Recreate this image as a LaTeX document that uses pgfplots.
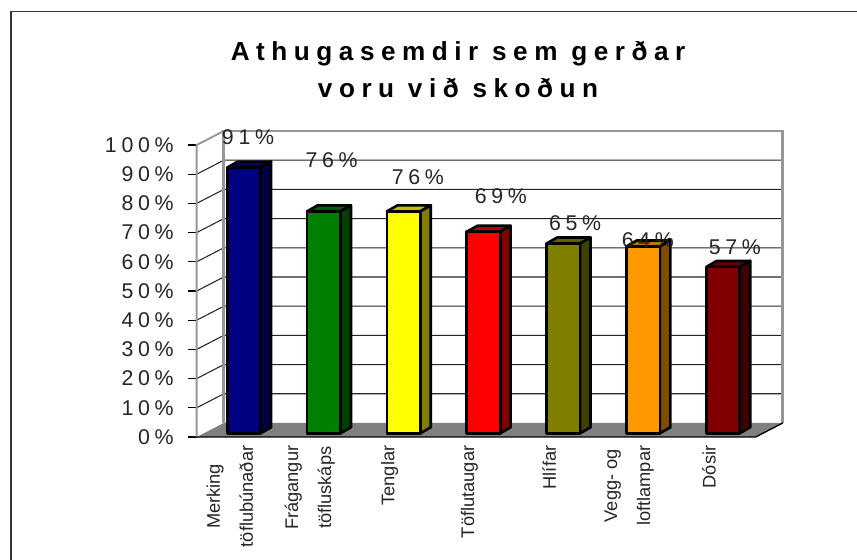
\documentclass[border=0pt]{standalone}
\usepackage{pgfplots}
\pgfplotsset{compat=1.18}
\usepackage{fontspec}
\setmainfont{Liberation Sans}
\newfontfamily\spacedfont[LetterSpace=22]{Liberation Sans}
\newfontfamily\titlefont[LetterSpace=25,BoldFont={Liberation Sans Bold}]{Liberation Sans}

\definecolor{wallgray}{HTML}{808080}
\definecolor{edgegray}{HTML}{969696}
\definecolor{cnavy}{HTML}{000080}
\definecolor{cnavyside}{HTML}{000040}
\definecolor{cnavytop}{HTML}{000060}
\definecolor{cgreen}{HTML}{008000}
\definecolor{cgreenside}{HTML}{004000}
\definecolor{cgreentop}{HTML}{006000}
\definecolor{cyellow}{HTML}{FFFF00}
\definecolor{cyellowside}{HTML}{808000}
\definecolor{cyellowtop}{HTML}{C0C000}
\definecolor{cred}{HTML}{FF0000}
\definecolor{credside}{HTML}{800000}
\definecolor{credtop}{HTML}{C00000}
\definecolor{colive}{HTML}{808000}
\definecolor{coliveside}{HTML}{404000}
\definecolor{colivetop}{HTML}{606000}
\definecolor{corange}{HTML}{FF9900}
\definecolor{corangeside}{HTML}{804D00}
\definecolor{corangetop}{HTML}{C07300}
\definecolor{cmaroon}{HTML}{800000}
\definecolor{cmaroonside}{HTML}{400000}
\definecolor{cmaroontop}{HTML}{600000}

% one 3D column: index, value, front, side and top colours
\newcommand{\column}[5]{
    \addplot[fill=#5, draw=black, line width=2pt, line join=round] coordinates {
        ({#1+0.383},{#2+1.27}) ({#1+0.514},{#2+3.32}) ({#1+0.932},{#2+3.32}) ({#1+0.801},{#2+1.27})
    } --cycle;
    \addplot[fill=#4, draw=black, line width=2pt, line join=round] coordinates {
        ({#1+0.801},1.27) ({#1+0.932},3.32) ({#1+0.932},{#2+3.32}) ({#1+0.801},{#2+1.27})
    } --cycle;
    \addplot[fill=#3, draw=black, line width=2pt, line join=round] coordinates {
        ({#1+0.383},1.27) ({#1+0.801},1.27) ({#1+0.801},{#2+1.27}) ({#1+0.383},{#2+1.27})
    } --cycle;
}

\begin{document}
\begin{tikzpicture}
    \path[use as bounding box, fill=white] (0,0) rectangle (642.75pt,420pt);
    \draw[black!80, line width=1.1pt] (8.4pt,0) -- (8.4pt,411.3pt) -- (642.75pt,411.3pt);
    \begin{axis}[
            at={(147.5pt,92.25pt)},
            anchor=south west,
            scale only axis,
            width=439.6pt,
            height=229.5pt,
            xmin=0, xmax=7.34,
            ymin=0, ymax=104.8,
            clip=false,
            axis line style={draw=none},
            tick pos=left,
            tick align=outside,
            ytick={0,10,...,100},
            yticklabels={0\%,10\%,20\%,30\%,40\%,50\%,60\%,70\%,80\%,90\%,100\%},
            yticklabel style={font=\spacedfont\fontsize{16}{17}\selectfont, black!85, xshift=-7pt},
            major tick length=6.75pt,
            ytick style={black, line width=0.8pt},
            xtick={0.5,1.5,...,6.5},
            xticklabels={Merking\\töflubúnaðar,Frágangur\\töfluskáps,Tenglar,Töflutaugar,Hlífar,Vegg- og\\loftlampar,Dósir},
            x tick label style={rotate=90, anchor=east, align=center,
                font=\fontsize{13.7}{24.75}\selectfont, black!85, xshift=3.8pt, yshift=5pt},
            xtick style={draw=none},
            minor xtick={0,1,...,7},
            minor tick length=4.5pt,
            minor x tick style={black!80, line width=0.8pt},
            title={Athugasemdir sem gerðar\\voru við skoðun},
            title style={at={(0.446,1.175)}, anchor=center, align=center,
                font=\titlefont\bfseries\fontsize{19.6}{27.5}\selectfont},
        ]

        % walls and floor
        \addplot[fill=white, draw=none] coordinates {(0,0) (0,100) (0.34,104.8) (7.34,104.8) (7.34,4.8) (0.34,4.8)} --cycle;
        \addplot[fill=wallgray, draw=none] coordinates {(0,0) (0.34,4.8) (7.34,4.8) (7,0)} --cycle;

        % grid lines across left wall and back wall
        \pgfplotsinvokeforeach{10,20,...,90}{
            \addplot[black!85, line width=0.8pt] coordinates {(0,#1) (0.34,{#1+4.8}) (7.34,{#1+4.8})};
        }
        \addplot[edgegray, line width=2pt] coordinates {(0.34,4.8) (0.34,104.8) (7.34,104.8) (7.34,4.8)};
        \addplot[edgegray, line width=1.4pt] coordinates {(0,0) (0,100) (0.34,104.8)};
        \addplot[black, line width=1pt] coordinates {(0,0) (7,0) (7.34,4.8)};

        \column{0}{91}{cnavy}{cnavyside}{cnavytop}
        \column{1}{76}{cgreen}{cgreenside}{cgreentop}
        \column{2}{76}{cyellow}{cyellowside}{cyellowtop}
        \column{3}{69}{cred}{credside}{credtop}
        \column{4}{65}{colive}{coliveside}{colivetop}
        \column{5}{64}{corange}{corangeside}{corangetop}
        \column{6}{57}{cmaroon}{cmaroonside}{cmaroontop}

        % value labels
        \addplot[
            only marks, mark=none,
            point meta=explicit symbolic,
            nodes near coords,
            every node near coord/.style={anchor=center, font=\spacedfont\fontsize{16}{17}\selectfont, black!85, inner sep=0pt},
        ] table[meta=label] {
            x y label
            0.643 102.6 91\%
            1.69 94.8 76\%
            2.77 89 76\%
            3.81 82.5 69\%
            4.74 73.3 65\%
            5.65 67.5 64\%
            6.74 65.1 57\%
        };
    \end{axis}
\end{tikzpicture}
\end{document}
